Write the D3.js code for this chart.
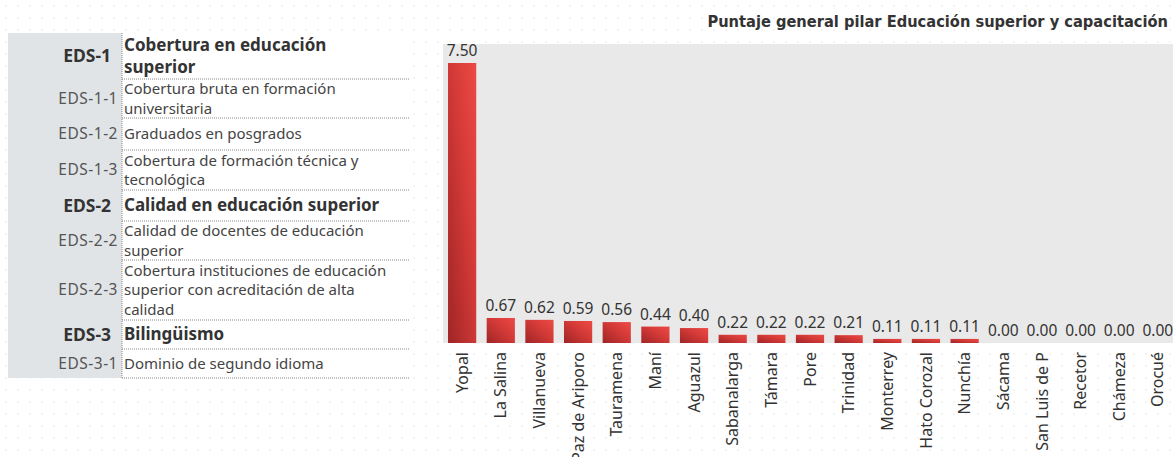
<!DOCTYPE html>
<html>
<head>
<meta charset="utf-8">
<script src="https://cdn.jsdelivr.net/npm/d3@7"></script>
<style>
  body { margin: 0; background: #fff; }
  svg { display: block; }
</style>
</head>
<body>
<div id="canvas"></div>
<script>
"use strict"

// municipios y puntaje del pilar
let municipios = ["Yopal", "La Salina", "Villanueva", "Paz de Ariporo", "Tauramena", "Maní",
    "Aguazul", "Sabanalarga", "Támara", "Pore", "Trinidad", "Monterrey", "Hato Corozal",
    "Nunchía", "Sácama", "San Luis de P", "Recetor", "Chámeza", "Orocué"];
let puntajes = [7.50, 0.67, 0.62, 0.59, 0.56, 0.44, 0.40, 0.22, 0.22, 0.22, 0.21, 0.11, 0.11,
    0.11, 0.00, 0.00, 0.00, 0.00, 0.00];

// tabla de indicadores
let codigos = ["EDS-1", "EDS-1-1", "EDS-1-2", "EDS-1-3", "EDS-2", "EDS-2-2", "EDS-2-3", "EDS-3", "EDS-3-1"];
let indicadores = [
    ["Cobertura en educación", "superior"],
    ["Cobertura bruta en formación", "universitaria"],
    ["Graduados en posgrados"],
    ["Cobertura de formación técnica y", "tecnológica"],
    ["Calidad en educación superior"],
    ["Calidad de docentes de educación", "superior"],
    ["Cobertura instituciones de educación", "superior con acreditación de alta", "calidad"],
    ["Bilingüismo"],
    ["Dominio de segundo idioma"]];
let esPilar = [true, false, false, false, true, false, false, true, false];

let width = 1173;
let height = 457;
let font = "'Noto Sans', 'Open Sans', sans-serif";

let drawing = d3.select("#canvas")
    .append("svg")
    .attr("width", width)
    .attr("height", height);

let defs = drawing.append("defs");

// dotted background
let dots = defs.append("pattern")
    .attr("id", "dots")
    .attr("width", 12)
    .attr("height", 12)
    .attr("patternUnits", "userSpaceOnUse");
dots.append("circle")
    .attr("cx", 6)
    .attr("cy", 6)
    .attr("r", 0.8)
    .attr("fill", "#e6e6e6");

let grad = defs.append("linearGradient")
    .attr("id", "barGrad")
    .attr("x1", 0).attr("y1", 1)
    .attr("x2", 1).attr("y2", 0);
grad.append("stop").attr("offset", "0%").attr("stop-color", "#9f2526");
grad.append("stop").attr("offset", "60%").attr("stop-color", "#d63b38");
grad.append("stop").attr("offset", "100%").attr("stop-color", "#ec4a45");

drawing.append("rect")
    .attr("width", width)
    .attr("height", height)
    .attr("fill", "url(#dots)");

/* left table */
let tableTop = 33;
let rowBottoms = [79, 118, 150, 190, 221, 260, 320, 349, 378];
let colX = 122;
let tableRight = 410;

drawing.append("rect")
    .attr("x", 8)
    .attr("y", tableTop)
    .attr("width", colX - 8)
    .attr("height", rowBottoms[rowBottoms.length - 1] - tableTop)
    .attr("fill", "#e1e4e7");

drawing.append("rect")
    .attr("x", colX)
    .attr("y", tableTop)
    .attr("width", tableRight - colX)
    .attr("height", rowBottoms[rowBottoms.length - 1] - tableTop)
    .attr("fill", "#fff");

drawing.append("line")
    .attr("x1", colX).attr("y1", tableTop)
    .attr("x2", colX).attr("y2", rowBottoms[rowBottoms.length - 1])
    .attr("stroke", "#8a8a8a")
    .attr("stroke-dasharray", "1,1");

let rows = drawing.append("g").selectAll("g")
    .data(codigos)
    .join("g");

rows.each(function (codigo, i) {
    let g = d3.select(this);
    let top = i === 0 ? tableTop : rowBottoms[i - 1];
    let bottom = rowBottoms[i];
    let mid = (top + bottom) / 2;
    let lines = indicadores[i];
    let bold = esPilar[i];
    let size = bold ? 17 : 15;
    let lh = bold ? 22 : 19.5;

    g.append("text")
        .attr("x", bold ? 111 : 118)
        .attr("y", mid)
        .attr("dy", "0.35em")
        .attr("text-anchor", "end")
        .attr("font-family", font)
        .attr("font-size", bold ? 17.5 : 15.5)
        .attr("font-weight", bold ? "bold" : "normal")
        .attr("letter-spacing", bold ? 0 : 0.5)
        .attr("fill", bold ? "#333" : "#555")
        .text(codigo);

    let t = g.append("text")
        .attr("font-family", font)
        .attr("font-size", size)
        .attr("font-weight", bold ? "bold" : "normal")
        .attr("fill", bold ? "#333" : "#444");
    lines.forEach(function (line, j) {
        t.append("tspan")
            .attr("x", 124)
            .attr("y", mid + (j - (lines.length - 1) / 2) * lh)
            .attr("dy", "0.35em")
            .text(line);
    });

    g.append("line")
        .attr("x1", colX).attr("y1", bottom)
        .attr("x2", tableRight).attr("y2", bottom)
        .attr("stroke", "#8a8a8a")
        .attr("stroke-dasharray", "1,1");
});

/* bar chart */
let plotLeft = 443;
let plotTop = 44;
let plotBottom = 343;

drawing.append("rect")
    .attr("x", plotLeft)
    .attr("y", plotTop)
    .attr("width", width - plotLeft)
    .attr("height", plotBottom - plotTop)
    .attr("fill", "#e9e9e9");

drawing.append("text")
    .attr("x", 1168)
    .attr("y", 27)
    .attr("text-anchor", "end")
    .attr("font-family", "'DejaVu Sans Condensed', 'DejaVu Sans', sans-serif")
    .attr("font-size", 16.3)
    .attr("font-weight", "bold")
    .attr("fill", "#333")
    .text("Puntaje general pilar Educación superior y capacitación");

let x = d3.scaleBand()
    .domain(municipios)
    .range([plotLeft, 1177])
    .paddingInner(0.27)
    .paddingOuter(0.13);

let y = d3.scaleLinear()
    .domain([0, 7.5])
    .range([plotBottom, 63]);

drawing.append("g")
    .selectAll("rect")
    .data(puntajes)
    .join("rect")
    .attr("x", (d, i) => x(municipios[i]))
    .attr("y", d => y(d))
    .attr("width", x.bandwidth())
    .attr("height", d => plotBottom - y(d))
    .attr("fill", "url(#barGrad)");

drawing.append("g")
    .selectAll("text")
    .data(puntajes)
    .join("text")
    .attr("x", (d, i) => x(municipios[i]) + x.bandwidth() / 2)
    .attr("y", d => y(d) - 7)
    .attr("text-anchor", "middle")
    .attr("font-family", font)
    .attr("font-size", 15.5)
    .attr("fill", "#333")
    .text(d => d.toFixed(2));

let xAxis = drawing.append("g")
    .attr("transform", "translate(0," + plotBottom + ")")
    .call(d3.axisBottom(x).tickSize(0).tickPadding(0));

xAxis.select(".domain").remove();
xAxis.selectAll("text")
    .attr("transform", "rotate(-90)")
    .attr("x", -9)
    .attr("y", 0)
    .attr("dy", "0.35em")
    .attr("text-anchor", "end")
    .attr("font-family", font)
    .attr("font-size", 16)
    .attr("fill", "#333");
</script>
</body>
</html>
